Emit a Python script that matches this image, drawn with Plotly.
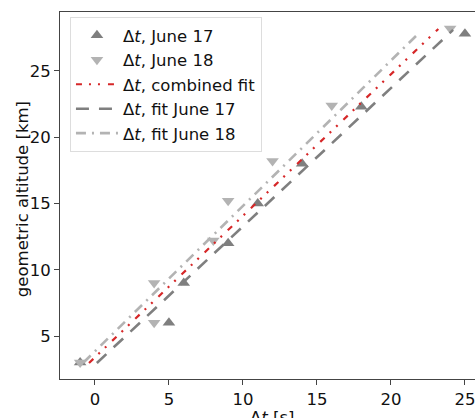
import plotly.graph_objects as go

# June 17 measurements (up triangles)
t_jun17 = [-1, 5, 6, 9, 11, 14, 18, 25]
h_jun17 = [3.0, 6.0, 9.0, 12.0, 15.0, 18.0, 22.3, 27.8]

# June 18 measurements (down triangles)
t_jun18 = [-1, 4, 4, 8, 9, 12, 16, 24]
h_jun18 = [3.0, 6.0, 9.0, 12.2, 15.2, 18.2, 22.4, 28.2]

# fit lines (end points)
fit_comb_t = [-0.4, 23.2]
fit_comb_h = [2.96, 28.17]
fit_17_t = [0.13, 24.2]
fit_17_h = [2.96, 28.1]
fit_18_t = [-0.77, 21.9]
fit_18_h = [3.0, 27.87]

x_ticks = [0, 5, 10, 15, 20, 25]
y_ticks = [5, 10, 15, 20, 25]

DARK = "#7f7f7f"
LIGHT = "#b3b3b3"
RED = "#d62728"
FS = 16.5

fig = go.Figure()
fig.add_trace(go.Scatter(x=t_jun17, y=h_jun17, mode="markers", name="Δ<i>t</i>, June 17",
                         marker=dict(symbol="triangle-up", size=11, color=DARK)))
fig.add_trace(go.Scatter(x=t_jun18, y=h_jun18, mode="markers", name="Δ<i>t</i>, June 18",
                         marker=dict(symbol="triangle-down", size=11, color=LIGHT)))
fig.add_trace(go.Scatter(x=fit_comb_t, y=fit_comb_h, mode="lines", name="Δ<i>t</i>, combined fit",
                         line=dict(color=RED, width=2.2, dash="6px,7px,2px,7px,2px,8px")))
fig.add_trace(go.Scatter(x=fit_17_t, y=fit_17_h, mode="lines", name="Δ<i>t</i>, fit June 17",
                         line=dict(color=DARK, width=2.6, dash="13px,10px")))
fig.add_trace(go.Scatter(x=fit_18_t, y=fit_18_h, mode="lines", name="Δ<i>t</i>, fit June 18",
                         line=dict(color=LIGHT, width=2.6, dash="10px,6px,2px,6px")))

axis_common = dict(
    showgrid=False, zeroline=False, showline=True, linecolor="#444", linewidth=1,
    ticks="outside", ticklen=5, tickcolor="#444", automargin=False,
    ticklabeloverflow="allow",
    tickfont=dict(family="DejaVu Sans", size=FS, color="#111"),
)

fig.update_layout(
    width=475, height=418,
    margin=dict(l=60, r=0, t=12, b=39),
    plot_bgcolor="white", paper_bgcolor="white",
    font=dict(family="DejaVu Sans", size=FS, color="#111"),
    showlegend=True,
    legend=dict(x=0.024, y=0.986, xanchor="left", yanchor="top",
                bgcolor="rgba(255,255,255,0.8)", bordercolor="#ddd", borderwidth=1,
                font=dict(family="DejaVu Sans", size=FS), tracegroupgap=0,
                itemwidth=42),
    xaxis=dict(range=[-2.36, 25.68], tickvals=x_ticks, mirror=True, **axis_common),
    yaxis=dict(range=[1.755, 29.45], tickvals=y_ticks, **axis_common),
    annotations=[
        dict(text="Δ<i>t</i> [s]", xref="paper", yref="paper",
             x=0.511, y=-0.073, xanchor="center", yanchor="top",
             showarrow=False, font=dict(family="DejaVu Sans", size=FS, color="#111")),
        dict(text="geometric altitude [km]", xref="paper", yref="paper",
             x=-0.0916, y=0.49, xanchor="center", yanchor="middle", textangle=-90,
             showarrow=False, font=dict(family="DejaVu Sans", size=FS, color="#111")),
    ],
)

fig.write_html("out.html", config={"displayModeBar": False},
               post_script="document.body.style.margin='0';document.body.style.overflow='hidden';")
